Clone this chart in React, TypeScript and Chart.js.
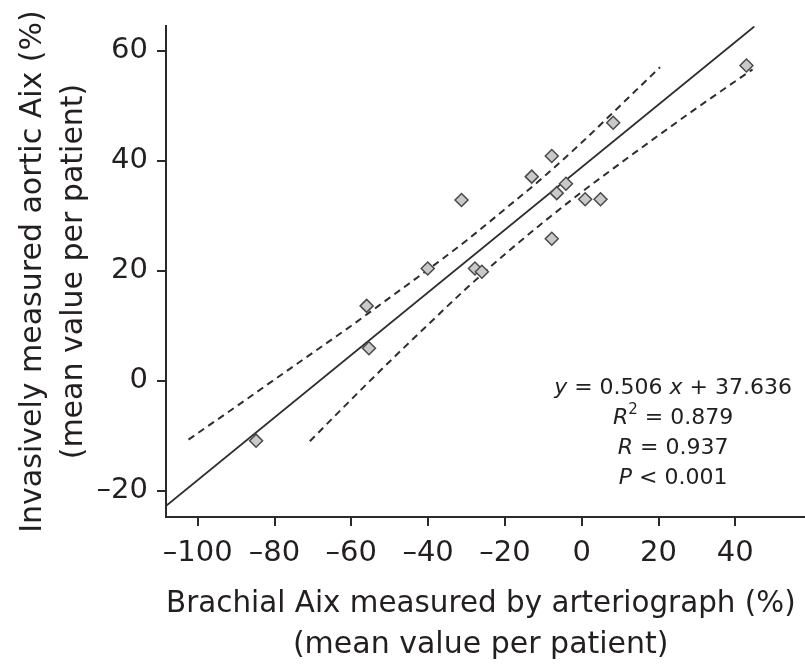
import React, { useEffect, useRef } from 'react';
import { Chart, registerables } from 'chart.js';

Chart.register(...registerables);

// Scatter points (Brachial Aix vs invasive aortic Aix)
const pointX = [-84.8, -56.0, -55.4, -40.1, -31.3, -27.8, -26.0, -13.0, -7.8, -7.8, -6.5, -4.1, 0.9, 4.9, 8.2, 42.9];
const pointY = [-10.9, 13.6, 5.9, 20.4, 32.85, 20.4, 19.8, 37.1, 40.85, 25.8, 34.1, 35.8, 33.0, 33.0, 46.9, 57.3];

// Regression line as drawn
const regX = [-108.3, 44.95];
const regY = [-22.8, 64.4];

// Upper confidence band
const upX = [-102.4, -90, -80, -70, -60, -50, -40, -30, -20, -10, 0, 10, 20.4];
const upY = [-10.7, -4.7, 0.2, 5.1, 10.0, 15.1, 20.2, 25.5, 31.2, 37.0, 43.3, 50.0, 57.0];

// Lower confidence band
const loX = [-70.8, -60, -50, -40, -30, -20, -10, 0, 10, 20, 30, 44.5];
const loY = [-11.0, -3.4, 3.5, 10.2, 16.8, 23.0, 28.8, 34.3, 39.5, 44.6, 49.6, 56.6];

// Axes
const xTicks = [-100, -80, -60, -40, -20, 0, 20, 40];
const yTicks = [-20, 0, 20, 40, 60];
const xMin = -108.26;
const xMax = 58.15;
const yMin = -24.78;
const yMax = 64.49;

const xTitle = ['Brachial Aix measured by arteriograph (%) ', '(mean value per patient) '];
const yTitle = ['Invasively measured aortic Aix (%)', '(mean value per patient)'];

// Annotation text (segments)
type Seg = { t: string; italic?: boolean; sup?: boolean };
const annotLines: Seg[][] = [
  [{ t: 'y', italic: true }, { t: ' = 0.506 ' }, { t: 'x', italic: true }, { t: ' + 37.636' }],
  [{ t: 'R', italic: true }, { t: '2', sup: true }, { t: ' = 0.879' }],
  [{ t: 'R', italic: true }, { t: ' = 0.937' }],
  [{ t: 'P', italic: true }, { t: ' < 0.001' }],
];
const annotX = 23.8;
const annotY = -1.3;

const FONT = '"DejaVu Sans", "Liberation Sans", Arial, sans-serif';
const INK = '#231f20';
const AXIS = '#2a2a2a';

const fmt = (v: number) => (v < 0 ? '\u2013' + Math.abs(v) : String(v));

const toPts = (xs: number[], ys: number[]) => xs.map((x, i) => ({ x, y: ys[i] }));

const annotationPlugin = {
  id: 'annotText',
  afterDatasetsDraw(chart: any) {
    const { ctx } = chart;
    const xs = chart.scales.x;
    const ys = chart.scales.y;
    const cx = xs.getPixelForValue(annotX);
    const cy0 = ys.getPixelForValue(annotY);
    const gap = 30;
    const mainSize = 22;
    const supSize = 15;
    const fontFor = (s: Seg) =>
      `${s.italic ? 'italic ' : ''}${s.sup ? supSize : mainSize}px ${FONT}`;
    ctx.save();
    ctx.fillStyle = INK;
    ctx.textBaseline = 'middle';
    ctx.textAlign = 'left';
    annotLines.forEach((segs, i) => {
      let total = 0;
      const widths = segs.map((s) => {
        ctx.font = fontFor(s);
        const w = ctx.measureText(s.t).width;
        total += w;
        return w;
      });
      let xpos = cx - total / 2;
      const ypos = cy0 + i * gap;
      segs.forEach((s, j) => {
        ctx.font = fontFor(s);
        ctx.fillText(s.t, xpos, s.sup ? ypos - 8 : ypos);
        xpos += widths[j];
      });
    });
    ctx.restore();
  },
};

export default function App() {
  const ref = useRef<HTMLCanvasElement | null>(null);

  useEffect(() => {
    if (!ref.current) return;
    const chart = new Chart(ref.current, {
      type: 'scatter',
      data: {
        datasets: [
          {
            label: 'patients',
            data: toPts(pointX, pointY),
            pointStyle: 'rectRot',
            pointRadius: 6.5,
            pointBackgroundColor: '#c9c9c9',
            pointBorderColor: '#4a4a4a',
            pointBorderWidth: 1.5,
            showLine: false,
          },
          {
            label: 'regression',
            data: toPts(regX, regY),
            showLine: true,
            borderColor: '#2e2e2e',
            borderWidth: 1.8,
            pointRadius: 0,
            fill: false,
          },
          {
            label: 'upper',
            data: toPts(upX, upY),
            showLine: true,
            borderColor: '#2e2e2e',
            borderWidth: 2,
            borderDash: [7, 5],
            pointRadius: 0,
            fill: false,
            cubicInterpolationMode: 'monotone',
          },
          {
            label: 'lower',
            data: toPts(loX, loY),
            showLine: true,
            borderColor: '#2e2e2e',
            borderWidth: 2,
            borderDash: [7, 5],
            pointRadius: 0,
            fill: false,
            cubicInterpolationMode: 'monotone',
          },
        ],
      },
      options: {
        responsive: false,
        animation: false,
        layout: { autoPadding: false, padding: { top: 26, left: 0, right: 0, bottom: 0 } },
        plugins: {
          legend: { display: false },
          tooltip: { enabled: false },
        },
        scales: {
          x: {
            type: 'linear',
            min: xMin,
            max: xMax,
            afterBuildTicks: (s: any) => {
              s.ticks = xTicks.map((v) => ({ value: v }));
            },
            afterFit: (s: any) => {
              s.height = 152;
              s.paddingLeft = 0;
              s.paddingRight = 0;
            },
            ticks: {
              callback: (v: any) => fmt(Number(v)),
              font: { family: FONT, size: 29 },
              color: INK,
              padding: 10.5,
              maxRotation: 0,
              autoSkip: false,
            },
            grid: {
              display: true,
              drawOnChartArea: false,
              drawTicks: true,
              tickLength: 9,
              lineWidth: 2,
              color: AXIS,
            },
            border: { display: true, color: AXIS, width: 2 },
            title: {
              display: true,
              text: xTitle,
              color: INK,
              font: { family: FONT, size: 30, lineHeight: 1.35 },
              padding: { top: 0, bottom: 4 },
            },
          },
          y: {
            type: 'linear',
            min: yMin,
            max: yMax,
            afterBuildTicks: (s: any) => {
              s.ticks = yTicks.map((v) => ({ value: v }));
            },
            afterFit: (s: any) => {
              s.width = 166;
              s.paddingTop = 0;
              s.paddingBottom = 0;
            },
            ticks: {
              callback: (v: any) => fmt(Number(v)),
              font: { family: FONT, size: 29 },
              color: INK,
              padding: 9,
              autoSkip: false,
            },
            grid: {
              display: true,
              drawOnChartArea: false,
              drawTicks: true,
              tickLength: 9,
              lineWidth: 2,
              color: AXIS,
            },
            border: { display: true, color: AXIS, width: 2 },
            title: {
              display: true,
              text: yTitle,
              color: INK,
              font: { family: FONT, size: 30, lineHeight: 1.35 },
              padding: { top: 13, bottom: 0 },
            },
          },
        },
      } as any,
      plugins: [annotationPlugin],
    });
    return () => chart.destroy();
  }, []);

  return (
    <div style={{ position: 'fixed', left: 0, top: 0, width: 805, height: 669, background: '#fff' }}>
      <canvas ref={ref} width={805} height={669} style={{ display: 'block', width: 805, height: 669 }} />
    </div>
  );
}
